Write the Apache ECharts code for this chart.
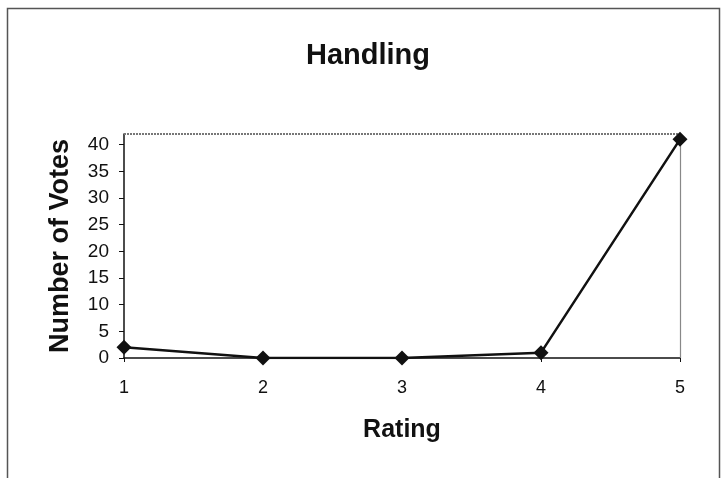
<!DOCTYPE html>
<html>
<head>
<meta charset="utf-8">
<script src="https://cdn.jsdelivr.net/npm/echarts@6/dist/echarts.min.js"></script>
<style>
  html, body { margin: 0; padding: 0; background: #fff; }
  #chart { width: 725px; height: 478px; }
</style>
</head>
<body>
<div id="chart"></div>
<script>
// Ratings and vote counts
const ratings = ['1', '2', '3', '4', '5'];
const votes = [2, 0, 0, 1, 41];
const yTicks = [0, 5, 10, 15, 20, 25, 30, 35, 40];

const chart = echarts.init(document.getElementById('chart'));
const font = 'Arial, "Liberation Sans", sans-serif';

chart.setOption({
  backgroundColor: '#fff',
  animation: false,
  title: {
    text: 'Handling',
    left: 363,
    top: 36,
    textAlign: 'center',
    textStyle: { fontFamily: font, fontSize: 29, fontWeight: 'bold', color: '#111' }
  },
  graphic: [
    {
      type: 'rect',
      shape: { x: 7.5, y: 8.5, width: 712, height: 480 },
      style: { fill: 'none', stroke: '#555', lineWidth: 1.5 },
      silent: true
    },
    {
      type: 'line',
      shape: { x1: 124, y1: 134, x2: 680, y2: 134 },
      style: { stroke: '#777', lineWidth: 2, lineDash: [2, 1] },
      silent: true, z: 1
    },
    {
      type: 'line',
      shape: { x1: 680.5, y1: 134, x2: 680.5, y2: 358 },
      style: { stroke: '#888', lineWidth: 1.2 },
      silent: true, z: 1
    }
  ],
  grid: { left: 124, right: 45, top: 134, bottom: 120 },
  xAxis: {
    type: 'category',
    data: ratings,
    boundaryGap: false,
    name: 'Rating',
    nameLocation: 'middle',
    nameGap: 60,
    nameTextStyle: { fontFamily: font, fontSize: 25, fontWeight: 'bold', color: '#111' },
    axisLine: { lineStyle: { color: '#111', width: 1.5 } },
    axisTick: { show: true, alignWithLabel: true, length: 4, lineStyle: { color: '#111' } },
    axisLabel: { fontFamily: font, fontSize: 18, color: '#111', margin: 21 },
    splitLine: { show: false }
  },
  yAxis: {
    type: 'value',
    min: 0,
    max: 42,
    interval: 5,
    name: 'Number of Votes',
    nameLocation: 'middle',
    nameGap: 50,
    nameTextStyle: { fontFamily: font, fontSize: 27, fontWeight: 'bold', color: '#111' },
    axisLine: { show: true, lineStyle: { color: '#111', width: 1.5 } },
    axisTick: { show: true, length: 5, customValues: yTicks, lineStyle: { color: '#111' } },
    axisLabel: { fontFamily: font, fontSize: 19, color: '#111', margin: 15, customValues: yTicks },
    splitLine: { show: false }
  },
  series: [{
    type: 'line',
    data: votes,
    symbol: 'diamond',
    symbolSize: 15,
    itemStyle: { color: '#111' },
    lineStyle: { color: '#111', width: 2.5 },
    z: 5
  }]
});
</script>
</body>
</html>
